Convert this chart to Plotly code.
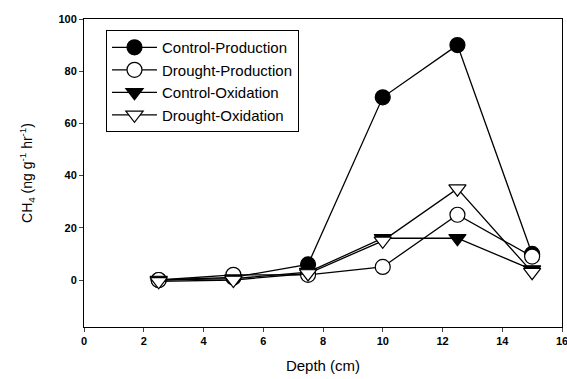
import plotly.graph_objects as go

depth = [2.5, 5, 7.5, 10, 12.5, 15]
control_production = [0, 1, 6, 70, 90, 10]
drought_production = [0, 2, 2, 5, 25, 9]
control_oxidation = [0, 0.5, 3, 16, 16, 4]
drought_oxidation = [-0.5, 0, 2.5, 15, 35, 3]

x_ticks = [0, 2, 4, 6, 8, 10, 12, 14, 16]
y_ticks = [0, 20, 40, 60, 80, 100]

series = [
    ("Control-Production", control_production, "circle", "black"),
    ("Drought-Production", drought_production, "circle", "white"),
    ("Control-Oxidation", control_oxidation, "triangle-down", "black"),
    ("Drought-Oxidation", drought_oxidation, "triangle-down", "white"),
]

fig = go.Figure()
for name, vals, sym, fill in series:
    fig.add_trace(go.Scatter(
        x=depth, y=vals, name=name, mode="lines+markers",
        line=dict(color="black", width=1.3),
        marker=dict(symbol=sym, size=15, color=fill,
                    line=dict(color="black", width=1.2)),
    ))

fig.update_layout(
    width=567, height=379,
    margin=dict(l=84, r=5, t=19, b=52, autoexpand=False),
    paper_bgcolor="white", plot_bgcolor="white",
    font=dict(family="Liberation Sans, Arial", color="black", size=12),
    showlegend=True,
    legend=dict(x=0.046, y=0.964, xanchor="left", yanchor="top",
                bordercolor="black", borderwidth=1, bgcolor="white",
                font=dict(size=15), tracegroupgap=0, itemwidth=45,
                itemsizing="trace"),
    xaxis=dict(range=[0, 16], tickvals=x_ticks, ticks="outside", ticklen=4,
               showline=True, linecolor="black", linewidth=1, mirror=True,
               showgrid=False, zeroline=False, automargin=False,
               ticklabeloverflow="allow",
               tickfont=dict(size=11, weight="bold"),
               title=dict(text="Depth (cm)", font=dict(size=15), standoff=14)),
    yaxis=dict(range=[-18, 100], tickvals=y_ticks, ticks="outside", ticklen=4,
               showline=True, linecolor="black", linewidth=1, mirror=True,
               showgrid=False, zeroline=False, automargin=False,
               ticklabeloverflow="allow",
               tickfont=dict(size=11, weight="bold"),
               title=dict(text="CH<sub>4</sub> (ng g<sup>-1</sup> hr<sup>-1</sup>)",
                          font=dict(size=14), standoff=22)),
)

fig.write_html("out.html")
